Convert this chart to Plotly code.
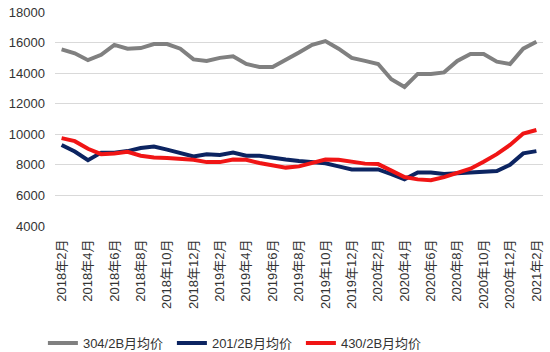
import plotly.graph_objects as go

months = [f"{y}年{m}月" for y, m in
          [(2018, m) for m in range(2, 13)] + [(2019, m) for m in range(1, 13)] +
          [(2020, m) for m in range(1, 13)] + [(2021, m) for m in range(1, 3)]]

s304 = [15550, 15300, 14850, 15200, 15850, 15600, 15640, 15900, 15900, 15600,
        14900, 14800, 15000, 15100, 14600, 14400, 14400, 14850, 15350, 15850,
        16100, 15600, 15000, 14800, 14600, 13600, 13100, 13950, 13950, 14050,
        14800, 15250, 15250, 14750, 14600, 15600, 16050]
s201 = [9300, 8870, 8310, 8800, 8800, 8900, 9100, 9200, 9000, 8750,
        8550, 8700, 8650, 8800, 8600, 8600, 8450, 8350, 8250, 8200,
        8100, 7900, 7700, 7700, 7700, 7400, 7050, 7500, 7500, 7400,
        7450, 7500, 7550, 7600, 8000, 8750, 8900]
s430 = [9750, 9550, 9050, 8700, 8750, 8850, 8600, 8480, 8450, 8420,
        8330, 8180, 8180, 8350, 8330, 8120, 7980, 7820, 7900, 8150,
        8350, 8330, 8180, 8080, 8050, 7620, 7200, 7050, 7000, 7200,
        7450, 7750, 8200, 8700, 9300, 10050, 10280]

names = ["304/2B月均价", "201/2B月均价", "430/2B月均价"]
colors = ["#808080", "#0c2461", "#f01515"]
yticks = [4000, 6000, 8000, 10000, 12000, 14000, 16000, 18000]

fig = go.Figure()
for name, vals, col in zip(names, [s304, s201, s430], colors):
    fig.add_trace(go.Scatter(x=months, y=vals, name=name, mode="lines",
                             line=dict(color=col, width=4)))

font = "Liberation Sans, Noto Sans CJK SC, sans-serif"
fig.update_layout(
    width=550, height=352,
    margin=dict(l=55, r=7, t=12, b=126, autoexpand=False),
    plot_bgcolor="white", paper_bgcolor="white",
    font=dict(family=font, size=13, color="#333333"),
    showlegend=True,
    legend=dict(orientation="h", xref="container", x=0.078, xanchor="left",
                yref="container", y=0.068, yanchor="top",
                font=dict(size=13), itemwidth=30, entrywidth=84,
                bgcolor="rgba(0,0,0,0)", tracegroupgap=0),
)
fig.update_xaxes(type="category", range=[-0.5, len(months) - 0.5],
                 tickmode="array", tickvals=months[::2], ticktext=months[::2],
                 tickangle=-90, showgrid=False, showline=False, ticks="",
                 tickfont=dict(size=13), ticklabelstandoff=10)
fig.update_yaxes(range=[4000, 18000], tickvals=yticks,
                 ticktext=[str(v) for v in yticks], showgrid=True,
                 gridcolor="#d9d9d9", gridwidth=1, zeroline=False, showline=False,
                 ticks="", tickfont=dict(size=13), ticklabelstandoff=9)

fig.write_html("out.html")
